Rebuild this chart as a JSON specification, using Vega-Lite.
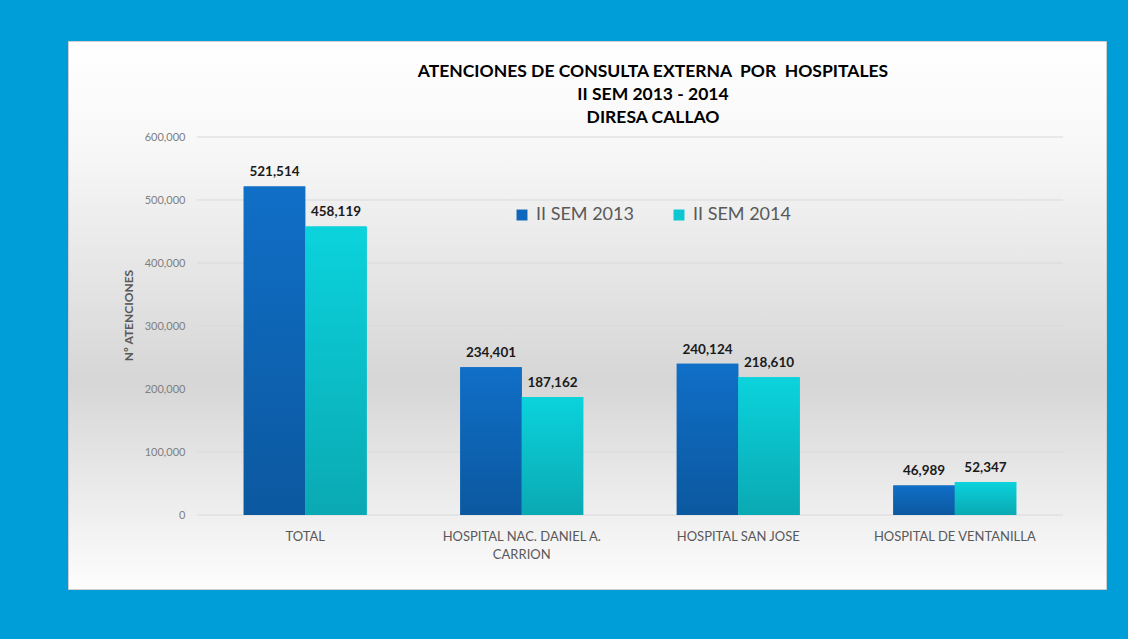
{
  "$schema": "https://vega.github.io/schema/vega-lite/v6.json",
  "width": 1038,
  "height": 548,
  "autosize": {"type": "none"},
  "padding": {"left": 68, "top": 41, "right": 22, "bottom": 50},
  "background": "#009ed9",
  "config": {
    "view": {
      "stroke": "#cfcfcf",
      "fill": {"gradient": "linear", "x1": 0, "y1": 0, "x2": 0, "y2": 1,
        "stops": [{"offset": 0, "color": "#ffffff"}, {"offset": 0.2, "color": "#f7f7f7"}, {"offset": 0.62, "color": "#d6d6d6"}, {"offset": 1, "color": "#fdfdfd"}]}
    }
  },
  "title": {
    "text": ["ATENCIONES DE CONSULTA EXTERNA\u00a0 POR\u00a0 HOSPITALES", "II SEM 2013 - 2014", "DIRESA CALLAO"],
    "font": "Lato",
    "fontSize": 17.5,
    "fontWeight": "bold",
    "color": "#000000",
    "lineHeight": 23,
    "anchor": "middle",
    "frame": "group",
    "baseline": "top",
    "offset": -85,
    "dx": 66
  },
  "datasets": {
    "bars": [
      {"hospital": "TOTAL", "serie": "II SEM 2013", "valor": 521514},
      {"hospital": "TOTAL", "serie": "II SEM 2014", "valor": 458119},
      {"hospital": "HOSPITAL NAC. DANIEL A. CARRION", "serie": "II SEM 2013", "valor": 234401},
      {"hospital": "HOSPITAL NAC. DANIEL A. CARRION", "serie": "II SEM 2014", "valor": 187162},
      {"hospital": "HOSPITAL SAN JOSE", "serie": "II SEM 2013", "valor": 240124},
      {"hospital": "HOSPITAL SAN JOSE", "serie": "II SEM 2014", "valor": 218610},
      {"hospital": "HOSPITAL DE VENTANILLA", "serie": "II SEM 2013", "valor": 46989},
      {"hospital": "HOSPITAL DE VENTANILLA", "serie": "II SEM 2014", "valor": 52347}
    ],
    "grid": [{"valor": 0}, {"valor": 100000}, {"valor": 200000}, {"valor": 300000}, {"valor": 400000}, {"valor": 500000}, {"valor": 600000}]
  },
  "encoding": {
    "x": {
      "field": "hospital",
      "type": "nominal",
      "sort": null,
      "scale": {
        "domain": ["TOTAL", "HOSPITAL NAC. DANIEL A. CARRION", "HOSPITAL SAN JOSE", "HOSPITAL DE VENTANILLA"],
        "paddingInner": 0.432,
        "paddingOuter": 0.613,
        "align": 0.662
      },
      "axis": {
        "title": null,
        "offset": -74,
        "domain": false,
        "ticks": false,
        "labelAngle": 0,
        "labelPadding": 15,
        "labelFont": "Lato",
        "labelFontSize": 13,
        "labelColor": "#595959",
        "labelLineHeight": 18,
        "labelBaseline": "top",
        "labelExpr": "datum.value == 'HOSPITAL NAC. DANIEL A. CARRION' ? ['HOSPITAL NAC. DANIEL A.', 'CARRION'] : datum.value"
      }
    },
    "y": {
      "field": "valor",
      "type": "quantitative",
      "scale": {"domain": [-117460, 752381], "nice": false, "zero": false},
      "axis": {
        "values": [0, 100000, 200000, 300000, 400000, 500000, 600000],
        "labelExpr": "format(datum.value, ',')",
        "offset": -125,
        "domain": false,
        "ticks": false,
        "grid": false,
        "labelPadding": 8,
        "labelFont": "Lato",
        "labelFontSize": 11,
        "labelColor": "#7f7f7f",
        "title": "Nº ATENCIONES",
        "titleFont": "Lato",
        "titleFontSize": 12,
        "titleFontWeight": "bold",
        "titleColor": "#595959",
        "titlePadding": 9
      }
    }
  },
  "layer": [
    {
      "data": {"name": "grid"},
      "mark": {"type": "rule", "color": "#d9d9d9", "strokeWidth": 1},
      "encoding": {
        "x": {"datum": "TOTAL", "type": "nominal", "bandPosition": -0.38},
        "x2": {"datum": "HOSPITAL DE VENTANILLA", "bandPosition": 1.38}
      }
    },
    {
      "data": {"name": "bars"},
      "mark": {"type": "bar"},
      "encoding": {
        "xOffset": {"field": "serie", "type": "nominal", "scale": {"paddingInner": 0, "paddingOuter": 0}},
        "color": {
          "field": "serie",
          "type": "nominal",
          "scale": {"domain": ["II SEM 2013", "II SEM 2014"], "range": ["#0e67ba", "#0ac7d2"]},
          "legend": {
            "title": null,
            "orient": "none",
            "legendX": 445,
            "legendY": 165,
            "direction": "horizontal",
            "symbolType": "square",
            "symbolSize": 120,
            "symbolStrokeWidth": 0,
            "labelFont": "Lato",
            "labelFontSize": 18,
            "labelColor": "#595959",
            "labelOffset": 5,
            "columnPadding": 36
          }
        }
      }
    },
    {
      "data": {"name": "bars"},
      "mark": {"type": "bar"},
      "encoding": {
        "xOffset": {"field": "serie", "type": "nominal"},
        "color": {
          "condition": {
            "test": "datum.serie == 'II SEM 2013'",
            "value": {"gradient": "linear", "x1": 0, "y1": 0, "x2": 0, "y2": 1,
              "stops": [{"offset": 0, "color": "#106fc7"}, {"offset": 1, "color": "#0b589f"}]}
          },
          "value": {"gradient": "linear", "x1": 0, "y1": 0, "x2": 0, "y2": 1,
            "stops": [{"offset": 0, "color": "#0bd3dc"}, {"offset": 1, "color": "#0aa9b3"}]}
        }
      }
    },
    {
      "data": {"name": "bars"},
      "mark": {"type": "text", "baseline": "bottom", "dy": -7, "font": "Lato", "fontSize": 13.5, "fontWeight": "bold", "color": "#1a1a1a"},
      "encoding": {
        "xOffset": {"field": "serie", "type": "nominal"},
        "text": {"field": "valor", "type": "quantitative", "format": ","}
      }
    }
  ]
}
